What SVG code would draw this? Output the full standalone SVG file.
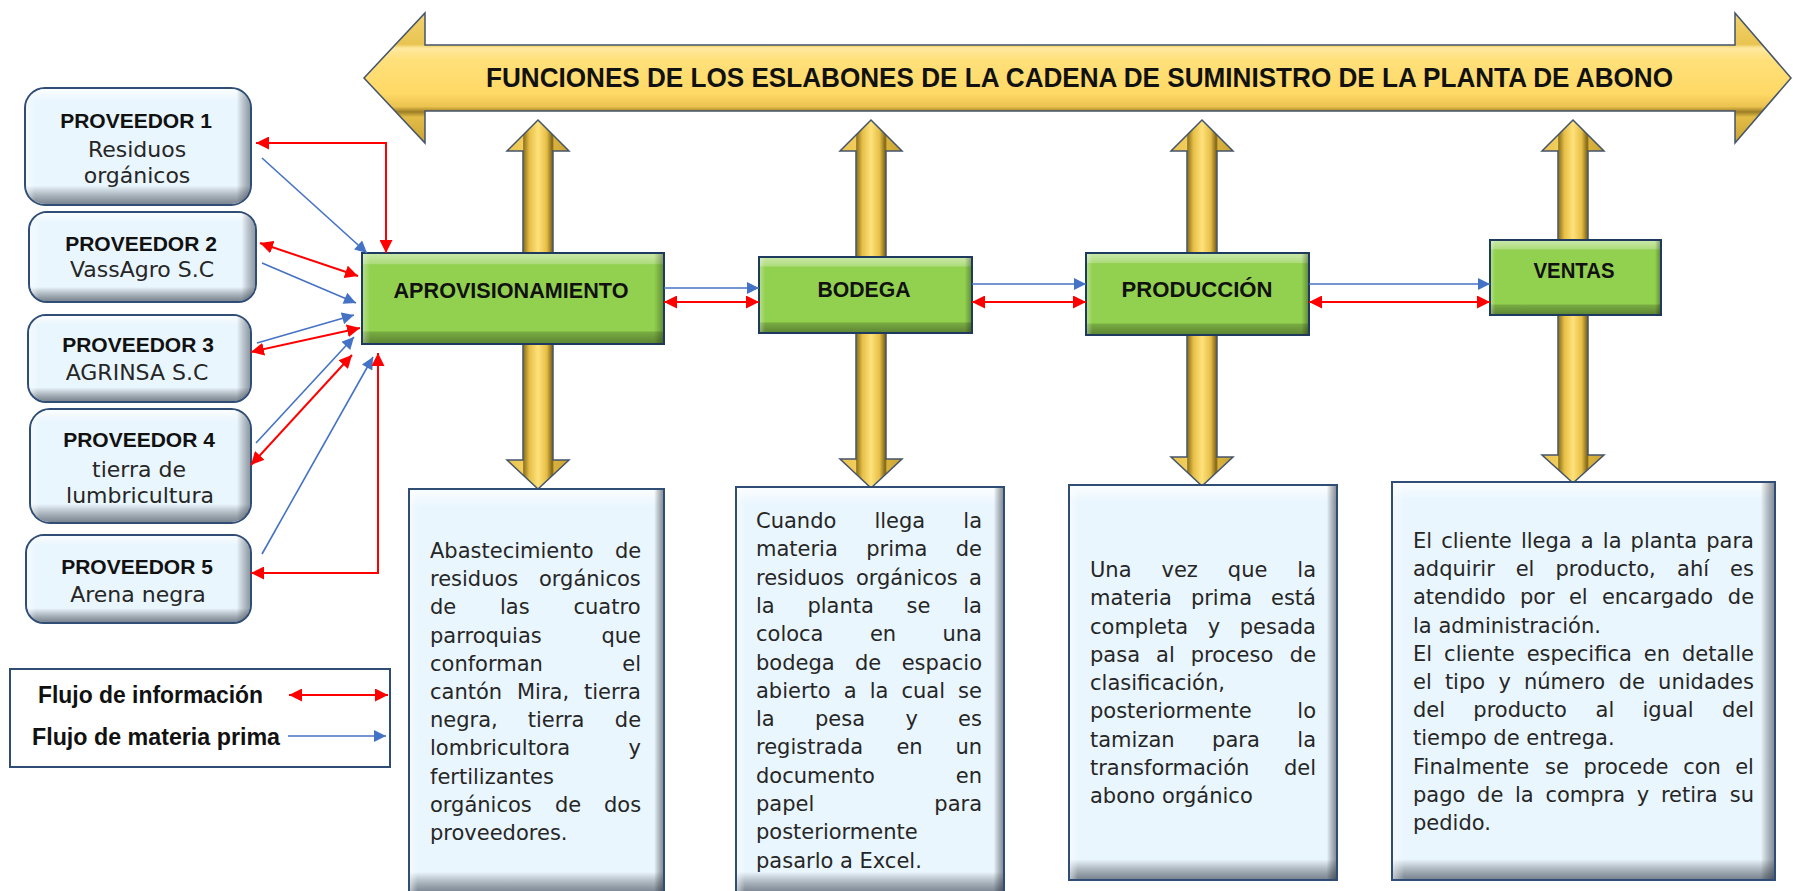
<svg xmlns="http://www.w3.org/2000/svg" width="1793" height="891" viewBox="0 0 1793 891">
<style>
.t{font-family:"DejaVu Sans","Liberation Sans",sans-serif;font-size:21px;fill:#262626}
.ps{font-family:"DejaVu Sans","Liberation Sans",sans-serif;font-size:22px;fill:#262626;text-anchor:middle}
.pv{font-family:"Liberation Sans",Arial,sans-serif;font-weight:bold;font-size:21px;fill:#111;text-anchor:middle}
.gl{font-family:"Liberation Sans",Arial,sans-serif;font-weight:bold;font-size:21.5px;fill:#111;text-anchor:middle}
.lg{font-family:"Liberation Sans",Arial,sans-serif;font-weight:bold;font-size:23px;fill:#111}
.ttl{font-family:"Liberation Sans",Arial,sans-serif;font-weight:bold;font-size:28px;fill:#111}
.yar{fill:url(#yv);stroke:#44546A;stroke-width:1.5;stroke-linejoin:miter}
.gbox{fill:#92D050;stroke:#1F3A5F;stroke-width:2}
.lbox{fill:#EAF6FE;stroke:#2F4D75;stroke-width:2}
.red{stroke:#FF0000;stroke-width:2;fill:none;marker-start:url(#mr);marker-end:url(#mr)}
.redo{stroke:#FF0000;stroke-width:2;fill:none;marker-end:url(#mr)}
.blue{stroke:#4472C4;stroke-width:1.6;fill:none;marker-end:url(#mb)}
</style>
<defs>
<marker id="mr" viewBox="0 0 12 12" refX="12" refY="6" markerWidth="13" markerHeight="13" orient="auto-start-reverse" markerUnits="userSpaceOnUse"><path d="M0,0 L12,6 L0,12 z" fill="#FF0000"/></marker>
<marker id="mb" viewBox="0 0 12 12" refX="12" refY="6" markerWidth="13" markerHeight="12" orient="auto-start-reverse" markerUnits="userSpaceOnUse"><path d="M0,0 L12,6 L0,12 z" fill="#4472C4"/></marker>
<linearGradient id="yv" x1="0" y1="0" x2="1" y2="0">
<stop offset="0" stop-color="#E9C24F"/>
<stop offset="0.25" stop-color="#F2CD5C"/>
<stop offset="0.27" stop-color="#8E7420"/>
<stop offset="0.36" stop-color="#E6BE45"/>
<stop offset="0.5" stop-color="#FFE27C"/>
<stop offset="0.64" stop-color="#E6BE45"/>
<stop offset="0.73" stop-color="#7E6418"/>
<stop offset="0.76" stop-color="#D9B23E"/>
<stop offset="1" stop-color="#C9A232"/>
</linearGradient>
<linearGradient id="yh" x1="0" y1="0" x2="0" y2="1">
<stop offset="0" stop-color="#F3D270"/>
<stop offset="0.24" stop-color="#E8C450"/>
<stop offset="0.27" stop-color="#FFE9A0"/>
<stop offset="0.36" stop-color="#FFE07A"/>
<stop offset="0.62" stop-color="#FFD966"/>
<stop offset="0.72" stop-color="#E9C24F"/>
<stop offset="0.76" stop-color="#9C7D24"/>
<stop offset="0.8" stop-color="#E3BD48"/>
<stop offset="1" stop-color="#C9A232"/>
</linearGradient>
<linearGradient id="gv" x1="0" y1="0" x2="0" y2="1">
<stop offset="0" stop-color="#FFFFFF" stop-opacity="0.5"/>
<stop offset="0.11" stop-color="#FFFFFF" stop-opacity="0.25"/>
<stop offset="0.12" stop-color="#FFFFFF" stop-opacity="0"/>
<stop offset="0.86" stop-color="#000000" stop-opacity="0"/>
<stop offset="0.88" stop-color="#000000" stop-opacity="0.18"/>
<stop offset="1" stop-color="#000000" stop-opacity="0.35"/>
</linearGradient>
<linearGradient id="gh" x1="0" y1="0" x2="1" y2="0">
<stop offset="0" stop-color="#FFFFFF" stop-opacity="0.3"/>
<stop offset="0.025" stop-color="#FFFFFF" stop-opacity="0"/>
<stop offset="0.97" stop-color="#000000" stop-opacity="0"/>
<stop offset="1" stop-color="#000000" stop-opacity="0.3"/>
</linearGradient>
<linearGradient id="pv" x1="0" y1="0" x2="0" y2="1">
<stop offset="0" stop-color="#FFFFFF" stop-opacity="0.8"/>
<stop offset="0.1" stop-color="#FFFFFF" stop-opacity="0"/>
<stop offset="0.84" stop-color="#000000" stop-opacity="0"/>
<stop offset="1" stop-color="#202A3A" stop-opacity="0.55"/>
</linearGradient>
<linearGradient id="ph" x1="0" y1="0" x2="1" y2="0">
<stop offset="0" stop-color="#FFFFFF" stop-opacity="0.5"/>
<stop offset="0.04" stop-color="#FFFFFF" stop-opacity="0"/>
<stop offset="0.94" stop-color="#000000" stop-opacity="0"/>
<stop offset="1" stop-color="#202A3A" stop-opacity="0.45"/>
</linearGradient>
<linearGradient id="tv" x1="0" y1="0" x2="0" y2="1">
<stop offset="0" stop-color="#FFFFFF" stop-opacity="0.8"/>
<stop offset="0.04" stop-color="#FFFFFF" stop-opacity="0"/>
<stop offset="0.95" stop-color="#000000" stop-opacity="0"/>
<stop offset="1" stop-color="#202A3A" stop-opacity="0.55"/>
</linearGradient>
<linearGradient id="th" x1="0" y1="0" x2="1" y2="0">
<stop offset="0" stop-color="#FFFFFF" stop-opacity="0.5"/>
<stop offset="0.03" stop-color="#FFFFFF" stop-opacity="0"/>
<stop offset="0.965" stop-color="#000000" stop-opacity="0"/>
<stop offset="1" stop-color="#202A3A" stop-opacity="0.5"/>
</linearGradient>
</defs>
<rect width="1793" height="891" fill="#FFFFFF"/>

<g id="title-arrow">
<path d="M364,78 L425,13 L425,45 L1735,45 L1735,13 L1791,78 L1735,143 L1735,111 L425,111 L425,143 Z" fill="url(#yh)" stroke="#44546A" stroke-width="1.5"/>
<text class="ttl" x="486" y="87" textLength="1187" lengthAdjust="spacingAndGlyphs">FUNCIONES DE LOS ESLABONES DE LA CADENA DE SUMINISTRO DE LA PLANTA DE ABONO</text>
</g>

<g id="vertical-arrows">
<path class="yar" d="M538,120 L569,151 L553,151 L553,460 L569,460 L538,489 L507,460 L523,460 L523,151 L507,151 Z"/>
<path class="yar" d="M871,120 L902,151 L886,151 L886,459 L902,459 L871,488 L840,459 L856,459 L856,151 L840,151 Z"/>
<path class="yar" d="M1202,120 L1233,151 L1217,151 L1217,457 L1233,457 L1202,486 L1171,457 L1187,457 L1187,151 L1171,151 Z"/>
<path class="yar" d="M1573,120 L1604,151 L1588,151 L1588,455 L1604,455 L1573,483 L1542,455 L1558,455 L1558,151 L1542,151 Z"/>
</g>

<g id="aprovisionamiento">
<rect class="gbox" x="362" y="253" width="302" height="91"/>
<rect x="363" y="254" width="300" height="89" fill="url(#gv)"/>
<rect x="363" y="254" width="300" height="89" fill="url(#gh)"/>
<text class="gl" x="511" y="298" textLength="235" lengthAdjust="spacingAndGlyphs">APROVISIONAMIENTO</text>
</g>
<g id="bodega">
<rect class="gbox" x="759" y="257" width="213" height="76"/>
<rect x="760" y="258" width="211" height="74" fill="url(#gv)"/>
<rect x="760" y="258" width="211" height="74" fill="url(#gh)"/>
<text class="gl" x="864" y="297" textLength="93" lengthAdjust="spacingAndGlyphs">BODEGA</text>
</g>
<g id="produccion">
<rect class="gbox" x="1086" y="253" width="223" height="82"/>
<rect x="1087" y="254" width="221" height="80" fill="url(#gv)"/>
<rect x="1087" y="254" width="221" height="80" fill="url(#gh)"/>
<text class="gl" x="1197" y="297" textLength="151" lengthAdjust="spacingAndGlyphs">PRODUCCIÓN</text>
</g>
<g id="ventas">
<rect class="gbox" x="1490" y="240" width="171" height="75"/>
<rect x="1491" y="241" width="169" height="73" fill="url(#gv)"/>
<rect x="1491" y="241" width="169" height="73" fill="url(#gh)"/>
<text class="gl" x="1574" y="278" textLength="81" lengthAdjust="spacingAndGlyphs">VENTAS</text>
</g>

<g id="proveedor1">
<rect class="lbox" x="25" y="88" width="226" height="117" rx="20"/>
<rect x="26" y="89" width="224" height="115" rx="19" fill="url(#pv)"/>
<rect x="26" y="89" width="224" height="115" rx="19" fill="url(#ph)"/>
<text class="pv" x="136" y="128">PROVEEDOR 1</text>
<text class="ps" x="137" y="157">Residuos</text>
<text class="ps" x="137" y="183">orgánicos</text>
</g>
<g id="proveedor2">
<rect class="lbox" x="29" y="212" width="227" height="90" rx="18"/>
<rect x="30" y="213" width="225" height="88" rx="17" fill="url(#pv)"/>
<rect x="30" y="213" width="225" height="88" rx="17" fill="url(#ph)"/>
<text class="pv" x="141" y="251">PROVEEDOR 2</text>
<text class="ps" x="142" y="277">VassAgro S.C</text>
</g>
<g id="proveedor3">
<rect class="lbox" x="28" y="315" width="223" height="87" rx="18"/>
<rect x="29" y="316" width="221" height="85" rx="17" fill="url(#pv)"/>
<rect x="29" y="316" width="221" height="85" rx="17" fill="url(#ph)"/>
<text class="pv" x="138" y="352">PROVEEDOR 3</text>
<text class="ps" x="137" y="380">AGRINSA S.C</text>
</g>
<g id="proveedor4">
<rect class="lbox" x="30" y="409" width="221" height="114" rx="20"/>
<rect x="31" y="410" width="219" height="112" rx="19" fill="url(#pv)"/>
<rect x="31" y="410" width="219" height="112" rx="19" fill="url(#ph)"/>
<text class="pv" x="139" y="447">PROVEEDOR 4</text>
<text class="ps" x="139" y="477">tierra de</text>
<text class="ps" x="140" y="503">lumbricultura</text>
</g>
<g id="proveedor5">
<rect class="lbox" x="26" y="535" width="225" height="88" rx="18"/>
<rect x="27" y="536" width="223" height="86" rx="17" fill="url(#pv)"/>
<rect x="27" y="536" width="223" height="86" rx="17" fill="url(#ph)"/>
<text class="pv" x="137" y="574">PROVEEDOR 5</text>
<text class="ps" x="138" y="602">Arena negra</text>
</g>

<g id="desc-aprovisionamiento">
<rect class="lbox" x="409" y="489" width="255" height="404"/>
<rect x="410" y="490" width="253" height="402" fill="url(#tv)"/>
<rect x="410" y="490" width="253" height="402" fill="url(#th)"/>
<text class="t">
<tspan x="430" y="558">Abastecimiento </tspan><tspan x="615">de </tspan>
<tspan x="430" y="586">residuos </tspan><tspan x="539">orgánicos </tspan>
<tspan x="430" y="614">de </tspan><tspan x="500">las </tspan><tspan x="573.5">cuatro </tspan>
<tspan x="430" y="643">parroquias </tspan><tspan x="601.4">que </tspan>
<tspan x="430" y="671">conforman </tspan><tspan x="622.3">el </tspan>
<tspan x="430" y="699">cantón </tspan><tspan x="517">Mira, </tspan><tspan x="584">tierra </tspan>
<tspan x="430" y="727">negra, </tspan><tspan x="527.7">tierra </tspan><tspan x="614.8">de </tspan>
<tspan x="430" y="755">lombricultora </tspan><tspan x="628.6">y </tspan>
<tspan x="430" y="784">fertilizantes </tspan>
<tspan x="430" y="812">orgánicos </tspan><tspan x="555">de </tspan><tspan x="604">dos </tspan>
<tspan x="430" y="840">proveedores.</tspan>
</text>
</g>

<g id="desc-bodega">
<rect class="lbox" x="736" y="487" width="268" height="406"/>
<rect x="737" y="488" width="266" height="404" fill="url(#tv)"/>
<rect x="737" y="488" width="266" height="404" fill="url(#th)"/>
<text class="t">
<tspan x="756" y="528">Cuando </tspan><tspan x="874.4">llega </tspan><tspan x="963.3">la </tspan>
<tspan x="756" y="556">materia </tspan><tspan x="866.2">prima </tspan><tspan x="955.7">de </tspan>
<tspan x="756" y="585">residuos </tspan><tspan x="855.9">orgánicos </tspan><tspan x="969.1">a </tspan>
<tspan x="756" y="613">la </tspan><tspan x="807.4">planta </tspan><tspan x="906.6">se </tspan><tspan x="963.2">la </tspan>
<tspan x="756" y="641">coloca </tspan><tspan x="869.9">en </tspan><tspan x="942.5">una </tspan>
<tspan x="756" y="670">bodega </tspan><tspan x="855">de </tspan><tspan x="901.7">espacio </tspan>
<tspan x="756" y="698">abierto </tspan><tspan x="843.8">a </tspan><tspan x="869.7">la </tspan><tspan x="901.5">cual </tspan><tspan x="958.1">se </tspan>
<tspan x="756" y="726">la </tspan><tspan x="815">pesa </tspan><tspan x="905.4">y </tspan><tspan x="958.1">es </tspan>
<tspan x="756" y="754">registrada </tspan><tspan x="896.4">en </tspan><tspan x="955.4">un </tspan>
<tspan x="756" y="783">documento </tspan><tspan x="955.8">en </tspan>
<tspan x="756" y="811">papel </tspan><tspan x="934.3">para </tspan>
<tspan x="756" y="839">posteriormente </tspan>
<tspan x="756" y="868">pasarlo a Excel.</tspan>
</text>
</g>

<g id="desc-produccion">
<rect class="lbox" x="1069" y="485" width="268" height="395"/>
<rect x="1070" y="486" width="266" height="393" fill="url(#tv)"/>
<rect x="1070" y="486" width="266" height="393" fill="url(#th)"/>
<text class="t">
<tspan x="1090" y="577">Una </tspan><tspan x="1161.5">vez </tspan><tspan x="1227.8">que </tspan><tspan x="1297.3">la </tspan>
<tspan x="1090" y="605">materia </tspan><tspan x="1190.9">prima </tspan><tspan x="1271">está </tspan>
<tspan x="1090" y="634">completa </tspan><tspan x="1207.7">y </tspan><tspan x="1239.7">pesada </tspan>
<tspan x="1090" y="662">pasa </tspan><tspan x="1156.1">al </tspan><tspan x="1190.7">proceso </tspan><tspan x="1289.8">de </tspan>
<tspan x="1090" y="690">clasificación, </tspan>
<tspan x="1090" y="718">posteriormente </tspan><tspan x="1297.3">lo </tspan>
<tspan x="1090" y="747">tamizan </tspan><tspan x="1212.1">para </tspan><tspan x="1297.3">la </tspan>
<tspan x="1090" y="775">transformación </tspan><tspan x="1283.9">del </tspan>
<tspan x="1090" y="803">abono orgánico</tspan>
</text>
</g>

<g id="desc-ventas">
<rect class="lbox" x="1392" y="482" width="383" height="398"/>
<rect x="1393" y="483" width="381" height="396" fill="url(#tv)"/>
<rect x="1393" y="483" width="381" height="396" fill="url(#th)"/>
<text class="t">
<tspan x="1413" y="548">El </tspan><tspan x="1441.2">cliente </tspan><tspan x="1520.9">llega </tspan><tspan x="1580.8">a </tspan><tspan x="1602.8">la </tspan><tspan x="1630.6">planta </tspan><tspan x="1706.2">para </tspan>
<tspan x="1413" y="576">adquirir </tspan><tspan x="1515.7">el </tspan><tspan x="1555.4">producto, </tspan><tspan x="1677.1">ahí </tspan><tspan x="1730.1">es </tspan>
<tspan x="1413" y="604">atendido </tspan><tspan x="1519.9">por </tspan><tspan x="1568.9">el </tspan><tspan x="1601.9">encargado </tspan><tspan x="1727.8">de </tspan>
<tspan x="1413" y="633">la administración. </tspan>
<tspan x="1413" y="661">El </tspan><tspan x="1444.1">cliente </tspan><tspan x="1526.7">especifica </tspan><tspan x="1643.8">en </tspan><tspan x="1682">detalle </tspan>
<tspan x="1413" y="689">el </tspan><tspan x="1444.9">tipo </tspan><tspan x="1498.4">y </tspan><tspan x="1524">número </tspan><tspan x="1618.7">de </tspan><tspan x="1658.1">unidades </tspan>
<tspan x="1413" y="717">del </tspan><tspan x="1473.3">producto </tspan><tspan x="1595.6">al </tspan><tspan x="1642.5">igual </tspan><tspan x="1721.9">del </tspan>
<tspan x="1413" y="745">tiempo de entrega. </tspan>
<tspan x="1413" y="774">Finalmente </tspan><tspan x="1545.1">se </tspan><tspan x="1583.4">procede </tspan><tspan x="1683.2">con </tspan><tspan x="1735.2">el </tspan>
<tspan x="1413" y="802">pago </tspan><tspan x="1477.1">de </tspan><tspan x="1515">la </tspan><tspan x="1545.4">compra </tspan><tspan x="1636.8">y </tspan><tspan x="1660.9">retira </tspan><tspan x="1729.7">su </tspan>
<tspan x="1413" y="830">pedido.</tspan>
</text>
</g>

<g id="legend">
<rect x="10" y="669" width="380" height="98" fill="#FFFFFF" stroke="#2F4D75" stroke-width="2"/>
<text class="lg" x="38" y="703" textLength="225" lengthAdjust="spacingAndGlyphs">Flujo de información</text>
<text class="lg" x="32" y="745" textLength="248" lengthAdjust="spacingAndGlyphs">Flujo de materia prima</text>
</g>

<g id="connectors">
<path class="red" d="M256,143 H386 V253"/>
<path class="blue" d="M262,158 L367,253"/>
<path class="red" d="M260,243 L358,276"/>
<path class="blue" d="M262,263 L356,303"/>
<path class="blue" d="M257,343 L354,315"/>
<path class="red" d="M251,352 L360,328"/>
<path class="blue" d="M256,443 L354,337"/>
<path class="red" d="M251,465 L352,355"/>
<path class="blue" d="M262,554 L373,357"/>
<path class="red" d="M251,573 H378 V353"/>
<path class="blue" d="M664,288 H759"/>
<path class="red" d="M664,302 H759"/>
<path class="blue" d="M972,284 H1086"/>
<path class="red" d="M972,302 H1086"/>
<path class="blue" d="M1309,284 H1490"/>
<path class="red" d="M1309,302 H1490"/>
<path class="red" d="M289,695 H388"/>
<path class="blue" d="M288,736 H386"/>
</g>
</svg>
